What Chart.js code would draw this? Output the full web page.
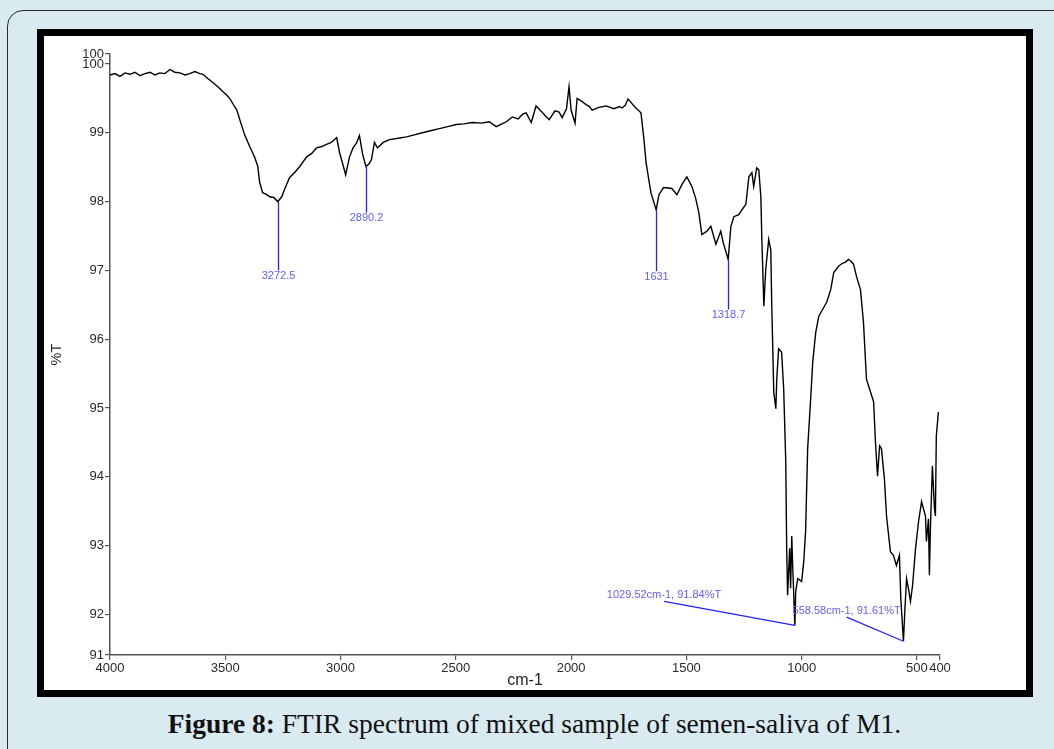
<!DOCTYPE html>
<html>
<head>
<meta charset="utf-8">
<script src="https://cdn.jsdelivr.net/npm/chart.js@4.4.1/dist/chart.umd.min.js"></script>
<style>
  html, body { margin: 0; padding: 0; }
  body { width: 1054px; height: 749px; overflow: hidden; background: #d9ebf1; position: relative; }
  .box { position: absolute; left: 7px; top: 10px; width: 1120px; height: 820px; border: 1.5px solid #2a2a2a; border-radius: 16px; }
  .frame { position: absolute; left: 37px; top: 29px; width: 982px; height: 654px; border: 7px solid #000; background: #fff; }
  #myChart { position: absolute; left: 0; top: 0; }
  .caption { position: absolute; left: 0; top: 708px; width: 1069px; text-align: center; font-family: "Liberation Serif", serif; font-size: 27.5px; color: #111; }
</style>
</head>
<body>
<div class="box"></div>
<div class="frame"><canvas id="myChart" width="982" height="654"></canvas></div>
<div class="caption"><b>Figure 8:</b> FTIR spectrum of mixed sample of semen-saliva of M1.</div>
<script>
const wavenumber = [
  4000, 3978, 3957, 3935, 3913, 3892, 3870, 3848, 3827, 3805, 3784, 3762, 3740, 3719, 3697, 3675,
  3654, 3632, 3610, 3597, 3576, 3554, 3532, 3511, 3494, 3481, 3463, 3450, 3437, 3416, 3394, 3372,
  3359, 3351, 3338, 3320, 3307, 3290, 3272.5, 3255, 3240, 3221, 3200, 3177, 3147, 3125, 3104, 3082,
  3061, 3040, 3017, 3004, 2978, 2961, 2946, 2931, 2918, 2905, 2890.2, 2876, 2866, 2853, 2840, 2815,
  2788, 2750, 2714, 2680, 2645, 2610, 2571, 2535, 2498, 2465, 2429, 2390, 2355, 2325, 2300, 2281,
  2255, 2230, 2210, 2195, 2173, 2152, 2126, 2110, 2095, 2070, 2052, 2039, 2020, 2009, 2000, 1983,
  1974, 1955, 1935, 1920, 1909, 1880, 1848, 1815, 1790, 1779, 1765, 1753, 1735, 1719, 1697, 1684,
  1675, 1654, 1631, 1619, 1600, 1589, 1563, 1541, 1519, 1498, 1476, 1460, 1446, 1433, 1411, 1394,
  1372, 1351, 1340, 1318.7, 1307, 1294, 1273, 1255, 1242, 1229, 1216, 1208, 1195, 1186, 1177, 1173,
  1164, 1156, 1143, 1134, 1130, 1121, 1112, 1108, 1100, 1087, 1078, 1069, 1065, 1061, 1052, 1048,
  1043, 1039, 1029.52, 1026, 1017, 1000, 991, 983, 974, 961, 952, 939, 926, 913, 891, 874,
  861, 840, 825, 810, 797, 785, 775, 762, 745, 732, 719, 701, 688, 680, 671, 662,
  654, 641, 632, 615, 602, 589, 576, 570, 558.58, 552, 545, 537, 528, 519, 506, 493,
  480, 472, 463, 459, 450, 446, 442, 433, 424, 420, 416, 407
];
const transmittance = [
  99.84, 99.86, 99.82, 99.87, 99.85, 99.88, 99.83, 99.86, 99.88, 99.84, 99.87, 99.86, 99.92, 99.88, 99.87, 99.84,
  99.86, 99.89, 99.86, 99.85, 99.79, 99.73, 99.67, 99.6, 99.55, 99.5, 99.4, 99.33, 99.19, 98.97, 98.8, 98.64,
  98.51, 98.28, 98.13, 98.1, 98.07, 98.06, 98.0, 98.07, 98.2, 98.35, 98.42, 98.51, 98.65, 98.7, 98.78, 98.8,
  98.83, 98.86, 98.93, 98.71, 98.39, 98.65, 98.78, 98.85, 98.96, 98.7, 98.51, 98.55, 98.61, 98.86, 98.78, 98.86,
  98.9, 98.92, 98.94, 98.97, 99.0, 99.03, 99.06, 99.09, 99.12, 99.13, 99.15, 99.14, 99.16, 99.09, 99.13, 99.16,
  99.23, 99.2, 99.27, 99.29, 99.15, 99.39, 99.3, 99.24, 99.19, 99.32, 99.3, 99.22, 99.35, 99.67, 99.33, 99.14,
  99.5, 99.46, 99.41, 99.38, 99.33, 99.37, 99.39, 99.35, 99.38, 99.36, 99.4, 99.49, 99.42, 99.36, 99.29, 98.9,
  98.57, 98.13, 97.88, 98.1, 98.2, 98.2, 98.19, 98.1, 98.25, 98.36, 98.22, 98.05, 97.84, 97.52, 97.57, 97.64,
  97.38, 97.57, 97.4, 97.16, 97.64, 97.78, 97.81, 97.9, 97.96, 98.36, 98.42, 98.22, 98.49, 98.46, 98.07, 97.49,
  96.48, 97.01, 97.45, 97.3, 96.54, 95.23, 94.99, 95.42, 95.86, 95.81, 95.28, 94.22, 92.96, 92.28, 92.96, 92.38,
  93.14, 92.71, 91.84, 92.33, 92.52, 92.48, 92.77, 93.2, 94.41, 95.13, 95.67, 96.1, 96.33, 96.41, 96.54, 96.72,
  96.97, 97.06, 97.1, 97.12, 97.16, 97.13, 97.09, 96.91, 96.72, 96.25, 95.42, 95.23, 95.09, 94.51, 94.01, 94.45,
  94.41, 93.97, 93.43, 92.91, 92.86, 92.71, 92.86, 92.23, 91.61, 92.09, 92.52, 92.38, 92.19, 92.42, 92.96, 93.35,
  93.64, 93.54, 93.43, 93.06, 93.39, 92.57, 93.2, 94.16, 93.54, 93.43, 94.59, 94.94
];

// axis ticks (the software labels the axis ends rounded)
const xTicks = [4000, 3500, 3000, 2500, 2000, 1500, 1000, 500, 400];
const yTicks = [91.41, 92, 93, 94, 95, 96, 97, 98, 99, 100, 100.145];

// peak marks
const markWn = [3272.5, 2890.2, 1631, 1318.7];
const markTop = [98.0, 98.51, 97.88, 97.16];
const markEnd = [97.0, 97.84, 96.99, 96.43];
const markText = ['3272.5', '2890.2', '1631', '1318.7'];

// callouts
const calloutWn = [1029.52, 558.58];
const calloutT = [91.84, 91.61];
const calloutFromWn = [1597, 805];
const calloutFromT = [92.19, 91.96];
const calloutText = ['1029.52cm-1, 91.84%T', '558.58cm-1, 91.61%T'];

const peakMarks = {
  id: 'peakMarks',
  afterDatasetsDraw(chart) {
    const {ctx, scales: {x, y}} = chart;
    ctx.save();
    ctx.strokeStyle = '#2323ff';
    ctx.fillStyle = '#6161ff';
    ctx.lineWidth = 1.3;
    ctx.font = '11px "Liberation Sans", Arial, sans-serif';
    ctx.textAlign = 'center';

    ctx.textBaseline = 'top';
    markWn.forEach((w, i) => {
      const px = Math.round(x.getPixelForValue(w)) + 0.5;
      const yEnd = y.getPixelForValue(markEnd[i]);
      ctx.beginPath();
      ctx.moveTo(px, y.getPixelForValue(markTop[i]));
      ctx.lineTo(px, yEnd);
      ctx.stroke();
      ctx.fillText(markText[i], px, yEnd);
    });

    ctx.textBaseline = 'bottom';
    calloutWn.forEach((w, i) => {
      const x0 = x.getPixelForValue(calloutFromWn[i]);
      const y0 = y.getPixelForValue(calloutFromT[i]);
      ctx.beginPath();
      ctx.moveTo(x0, y0);
      ctx.lineTo(x.getPixelForValue(w), y.getPixelForValue(calloutT[i]));
      ctx.stroke();
      ctx.fillText(calloutText[i], x0, y0 - 1);
    });
    ctx.restore();
  }
};

const tickFont = {family: '"Liberation Sans", Arial, sans-serif', size: 13};

const ctx = document.getElementById('myChart');
const config = {
  type: 'line',
  data: {
    datasets: [{
      data: wavenumber.map((w, i) => ({x: w, y: transmittance[i]})),
      borderColor: '#000',
      borderWidth: 1.4,
      pointRadius: 0,
      tension: 0,
      fill: false
    }]
  },
  options: {
    responsive: false,
    animation: false,
    layout: {padding: {left: 0, top: 18, right: 86, bottom: 0}},
    plugins: {legend: {display: false}, tooltip: {enabled: false}},
    scales: {
      x: {
        type: 'linear',
        reverse: true,
        min: 400,
        max: 4000,
        afterBuildTicks: scale => { scale.ticks = xTicks.map(v => ({value: v})); },
        afterFit: scale => { scale.height = 35; },
        grid: {drawOnChartArea: false, tickLength: 5, tickColor: '#555', lineWidth: 1.2},
        border: {color: '#555', width: 1.5},
        ticks: {autoSkip: false, maxRotation: 0, padding: 1, color: '#2a2a2a', font: tickFont,
          callback: v => String(v)},
        title: {display: true, text: 'cm-1', color: '#222', padding: {top: 0, bottom: 0},
          font: {family: '"Liberation Sans", Arial, sans-serif', size: 16}}
      },
      y: {
        min: 91.41,
        max: 100.145,
        afterBuildTicks: scale => { scale.ticks = yTicks.map(v => ({value: v})); },
        afterFit: scale => { scale.width = 66; },
        grid: {drawOnChartArea: false, tickLength: 5, tickColor: '#555', lineWidth: 1.2},
        border: {color: '#555', width: 1.5},
        ticks: {autoSkip: false, padding: 1, color: '#2a2a2a', font: tickFont,
          callback: v => String(Math.round(v))},
        title: {display: true, text: '%T', color: '#222', padding: {top: 4, bottom: 4},
          font: {family: '"Liberation Sans", Arial, sans-serif', size: 14.5}}
      }
    }
  },
  plugins: [peakMarks]
};

new Chart(ctx, config);
</script>
</body>
</html>
